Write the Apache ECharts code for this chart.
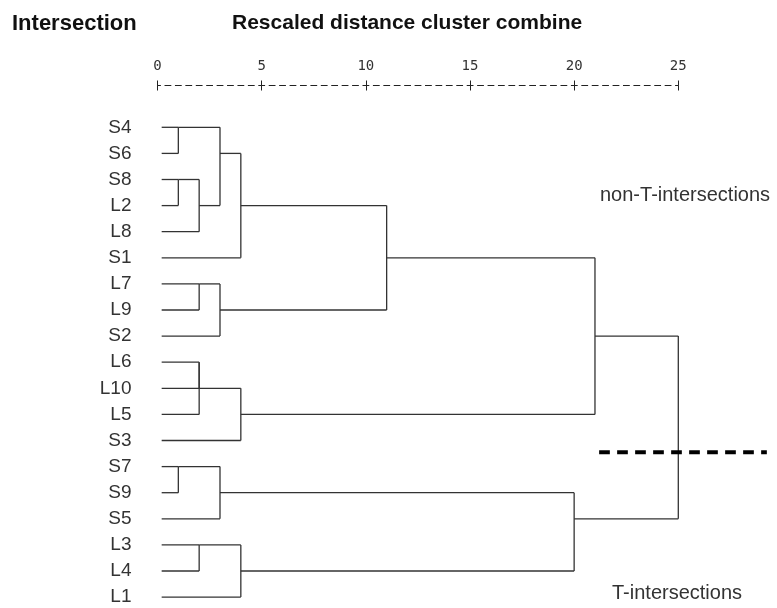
<!DOCTYPE html>
<html>
<head>
<meta charset="utf-8">
<script src="https://cdn.jsdelivr.net/npm/echarts@6/dist/echarts.min.js"></script>
<style>
  html, body { margin: 0; padding: 0; background: #fff; }
  #main { width: 777px; height: 608px; }
</style>
</head>
<body>
<div id="main"></div>
<script>
// leaves, top to bottom
var leaves = ['S4', 'S6', 'S8', 'L2', 'L8', 'S1', 'L7', 'L9', 'S2', 'L6', 'L10', 'L5', 'S3', 'S7', 'S9', 'S5', 'L3', 'L4', 'L1'];
// agglomeration schedule: ids < 19 are leaves, id 19 + k is the cluster made at step k
var mergeA = [0, 2, 13, 20, 6, 9, 24, 16, 19, 23, 21, 27, 25, 26, 30, 29, 33, 35];
var mergeB = [1, 3, 14, 4, 7, 10, 11, 17, 22, 8, 15, 5, 12, 18, 28, 32, 31, 34];
var mergeDist = [1, 1, 1, 2, 2, 2, 2, 2, 3, 3, 3, 4, 4, 4, 11, 20, 21, 25];
var distTicks = [0, 5, 10, 15, 20, 25];
var leafStart = 0.2;
// cut line drawn on the dendrogram: [from, to, row]
var cutLine = [21.2, 29.25, 12.45];

var nodeX = [];
var nodeRow = [];
leaves.forEach(function (name, i) {
    nodeX.push(leafStart);
    nodeRow.push(i);
});

var segments = [];
for (var k = 0; k < mergeDist.length; k++) {
    var a = mergeA[k], b = mergeB[k], d = mergeDist[k];
    segments.push([nodeX[a], nodeRow[a], d, nodeRow[a]]);
    segments.push([nodeX[b], nodeRow[b], d, nodeRow[b]]);
    segments.push([d, nodeRow[a], d, nodeRow[b]]);
    nodeX.push(d);
    nodeRow.push(Math.floor((nodeRow[a] + nodeRow[b]) / 2));
}

function renderSegment(params, api) {
    var p1 = api.coord([api.value(0), api.value(1)]);
    var p2 = api.coord([api.value(2), api.value(3)]);
    return {
        type: 'line',
        shape: { x1: p1[0], y1: p1[1], x2: p2[0], y2: p2[1] },
        style: api.style({ stroke: '#333', lineWidth: 1.3 })
    };
}

var chart = echarts.init(document.getElementById('main'));

var option = {
    backgroundColor: '#fff',
    animation: false,
    grid: {
        left: 157.5,
        right: 98.7,
        top: 127.3,
        bottom: 10.9,
        outerBoundsMode: 'none'
    },
    xAxis: [
        {
            type: 'value',
            position: 'top',
            offset: 41.8,
            min: 0,
            max: 25,
            interval: 5,
            axisLine: {
                show: true,
                onZero: false,
                lineStyle: { color: '#222', width: 1, type: [6, 4.42], dashOffset: 3 }
            },
            axisTick: { show: true, inside: false, length: 5, lineStyle: { color: '#222', width: 1 } },
            axisLabel: {
                margin: 12,
                color: '#333',
                fontSize: 14,
                fontFamily: 'DejaVu Sans Mono',
                formatter: function (v) { return distTicks.indexOf(v) >= 0 ? String(v) : ''; }
            },
            splitLine: { show: false }
        },
        {
            type: 'value',
            position: 'top',
            offset: 41.8,
            min: 0,
            max: 25,
            interval: 5,
            axisLine: { show: false, onZero: false },
            axisTick: { show: true, inside: true, length: 5, lineStyle: { color: '#222', width: 1 } },
            axisLabel: { show: false },
            splitLine: { show: false }
        }
    ],
    yAxis: {
        type: 'value',
        inverse: true,
        min: 0,
        max: leaves.length - 1,
        interval: 1,
        axisLine: { show: false },
        axisTick: { show: false },
        splitLine: { show: false },
        axisLabel: {
            margin: 26,
            color: '#333',
            fontSize: 19,
            fontFamily: 'Liberation Sans',
            formatter: function (v) { return leaves[v] || ''; }
        }
    },
    graphic: [
        {
            type: 'text', left: 12, top: 13,
            style: { text: 'Intersection', fill: '#111', font: 'bold 22px "Liberation Sans"' }
        },
        {
            type: 'text', left: 232, top: 13,
            style: { text: 'Rescaled distance cluster combine', fill: '#111', font: 'bold 21px "Liberation Sans"' }
        },
        {
            type: 'text', left: 600, top: 185,
            style: { text: 'non-T-intersections', fill: '#333', font: '20px "Liberation Sans"' }
        },
        {
            type: 'text', left: 612, top: 583,
            style: { text: 'T-intersections', fill: '#333', font: '20px "Liberation Sans"' }
        }
    ],
    series: [
        {
            type: 'custom',
            name: 'dendrogram',
            xAxisIndex: 0,
            renderItem: renderSegment,
            encode: { x: [0, 2], y: [1, 3] },
            data: segments,
            silent: true
        },
        {
            type: 'custom',
            name: 'cut',
            xAxisIndex: 0,
            clip: false,
            renderItem: function (params, api) {
                var p1 = api.coord([api.value(0), api.value(2)]);
                var p2 = api.coord([api.value(1), api.value(2)]);
                return {
                    type: 'line',
                    shape: { x1: p1[0], y1: p1[1], x2: p2[0], y2: p2[1] },
                    style: { stroke: '#000', lineWidth: 4, lineDash: [10.7, 7.3] }
                };
            },
            encode: { x: [0, 1], y: 2 },
            data: [cutLine],
            silent: true
        }
    ]
};

chart.setOption(option);
</script>
</body>
</html>
